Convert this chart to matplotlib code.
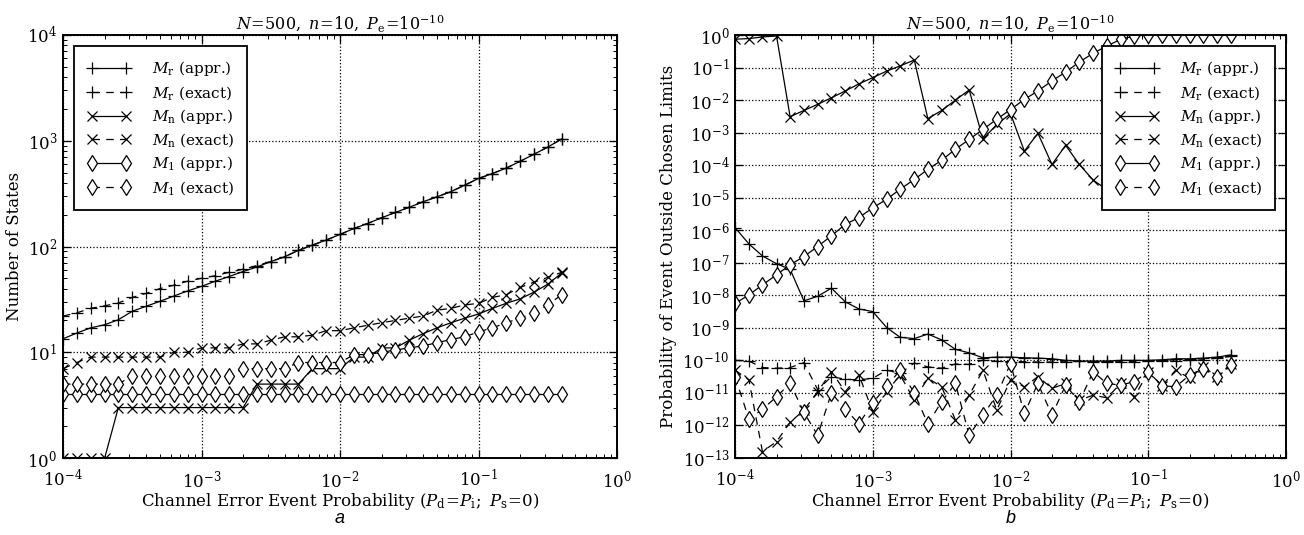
import numpy as np
import matplotlib
matplotlib.use("Agg")
import matplotlib.pyplot as plt
from matplotlib.ticker import LogLocator, NullLocator

plt.rcParams['font.family'] = 'DejaVu Serif'
plt.rcParams['mathtext.fontset'] = 'dejavuserif'
plt.rcParams['font.size'] = 11

# channel error event probability (10 points per decade)
p = [1.00e-4, 1.26e-4, 1.58e-4, 2.00e-4, 2.51e-4, 3.16e-4, 3.98e-4, 5.01e-4, 6.31e-4, 7.94e-4,
     1.00e-3, 1.26e-3, 1.58e-3, 2.00e-3, 2.51e-3, 3.16e-3, 3.98e-3, 5.01e-3, 6.31e-3, 7.94e-3,
     1.00e-2, 1.26e-2, 1.58e-2, 2.00e-2, 2.51e-2, 3.16e-2, 3.98e-2, 5.01e-2, 6.31e-2, 7.94e-2,
     1.00e-1, 1.26e-1, 1.58e-1, 2.00e-1, 2.51e-1, 3.16e-1, 3.98e-1]

# (a) number of states
states_mr_appr = [13.4, 15.2, 17, 18.2, 20.3, 24.4, 27.2, 30.3, 34, 38, 42, 47, 52, 58, 64, 72, 80, 92,
                  103, 115, 130, 148, 165, 187, 210, 235, 265, 295, 330, 380, 440, 490, 550, 640, 745, 870, 1040]
states_mr_exact = [22, 23.6, 26, 27.5, 29.2, 33, 36, 40, 43, 47, 50, 53, 57, 61, 66, 72, 80, 92,
                   103, 115, 130, 148, 165, 187, 210, 235, 265, 295, 330, 380, 440, 490, 550, 640, 745, 870, 1040]
states_mn_appr = [1, 1, 1, 1, 3, 3, 3, 3, 3, 3, 3, 3, 3, 3, 5, 5, 5, 5, 7, 7, 7, 9, 9, 11, 11,
                  13, 15, 17, 19, 21, 23, 26, 29, 32, 37, 44, 56]
states_mn_exact = [7, 8, 9, 9, 9, 9, 9, 9, 10, 10, 11, 11, 11, 12, 12, 13, 14, 14, 14.5, 16, 16,
                   17, 18, 19, 20, 21, 22, 25, 26, 28, 29, 33, 35, 41, 46, 51, 57]
states_m1_appr = [4] * 37
states_m1_exact = [5, 5, 5, 5, 5, 6, 6, 6, 6, 6, 6, 6, 6, 7, 7, 7, 7, 8, 8, 8, 8, 9.5, 9.5, 10, 10.5,
                   11, 11.5, 12.3, 13.2, 14, 15.6, 17, 19, 21, 23.5, 28, 35]

# (b) probability of event outside chosen limits, log10 values
logp_mr_appr = [-5.92, -6.42, -6.79, -7.03, -7.2, -8.17, -8.03, -7.78, -8.2, -8.42, -8.5, -8.99, -9.29,
                -9.33, -9.19, -9.37, -9.66, -9.77, -9.92, -9.9, -9.9, -9.92, -9.93, -9.95, -10.0, -10.02,
                -10.02, -10.02, -10.0, -10.0, -10.0, -9.98, -9.95, -9.95, -9.93, -9.9, -9.83]
logp_mr_exact = [-10.0, -10.02, -10.22, -10.24, -10.22, -10.07, -10.9, -10.5, -10.58, -10.6, -10.55, -10.3,
                 -10.4, -10.08, -10.2, -10.24, -10.11, -10.12, -9.99, -10.03, -10.04, -10.04, -10.05, -10.05,
                 -10.04, -10.03, -10.05, -10.05, -10.04, -10.04, -10.03, -10.02, -10.02, -10.0, -9.98, -9.93, -9.88]
logp_mn_appr = [-0.13, -0.11, -0.06, -0.03, -2.51, -2.32, -2.13, -1.93, -1.72, -1.5, -1.31, -1.11, -0.95,
                -0.77, -2.57, -2.32, -2.0, -1.69, -3.2, -2.75, -2.42, -3.57, -3.02, -3.98, -3.39, -3.98,
                -4.46, -4.75, -4.9, -5.0, -5.05, -5.1, -5.1, -5.15, -5.15, -5.2, -5.2]
logp_mn_exact = [-10.3, -10.6, -12.8, -12.5, -11.9, -11.53, -10.96, -10.35, -10.96, -10.45, -11.58, -10.96,
                 -10.45, -11.22, -10.55, -10.81, -11.83, -11.07, -10.3, -11.53, -10.6, -10.81, -10.5, -10.86,
                 -10.71, -11.22, -11.07, -11.15, -10.71, -11.12, -10.35, -10.78, -10.3, -10.55, -10.19, -10.5, -10.1]
logp_m1_appr = [-8.25, -7.99, -7.68, -7.37, -7.06, -6.81, -6.5, -6.17, -5.82, -5.61, -5.31, -5.05, -4.74,
                -4.44, -4.13, -3.85, -3.51, -3.21, -2.9, -2.59, -2.29, -1.98, -1.72, -1.41, -1.14, -0.83,
                -0.56, -0.34, -0.13, -0.03, 0, 0, 0, 0, 0, 0, 0]
logp_m1_exact = [-10.5, -11.8, -11.5, -11.12, -10.7, -11.6, -12.3, -11.0, -11.5, -11.95, -11.3, -10.8,
                 -10.3, -11.0, -11.95, -11.27, -10.71, -12.3, -11.68, -11.07, -10.1, -11.63, -10.71, -11.68,
                 -10.76, -11.27, -10.35, -10.71, -10.76, -10.65, -10.35, -10.78, -10.81, -10.45, -10.25, -10.5, -10.13]

labels = [r'$M_{\mathrm{r}}$ (appr.)', r'$M_{\mathrm{r}}$ (exact)',
          r'$M_{\mathrm{n}}$ (appr.)', r'$M_{\mathrm{n}}$ (exact)',
          r'$M_{1}$ (appr.)', r'$M_{1}$ (exact)']
markers = ['+', '+', 'x', 'x', 'd', 'd']
sizes = [8.5, 8.5, 7.5, 7.5, 8, 8]
title = r'$N\!=\!500,\ n\!=\!10,\ P_{\mathrm{e}}\!=\!10^{-10}$'
xlab = r'Channel Error Event Probability ($P_{\mathrm{d}}\!=\!P_{\mathrm{i}};\ P_{\mathrm{s}}\!=\!0$)'


def draw(ax, series):
    for i, ys in enumerate(series):
        ls = '-' if i % 2 == 0 else (0, (6, 5))
        ax.plot(p, ys, color='black', linestyle=ls, lw=0.9, marker=markers[i],
                ms=sizes[i], mew=0.9, mfc='white', mec='black', label=labels[i])
    ax.set_xscale('log')
    ax.set_yscale('log')
    ax.set_xlim(1e-4, 1)
    ax.grid(True, which='major', color='black', linestyle=':', lw=0.9)
    ax.tick_params(which='both', direction='in', top=True, right=True, labelsize=12)
    ax.tick_params(which='major', length=6, width=0.9, pad=4)
    ax.tick_params(axis='x', which='major', pad=8)
    ax.tick_params(which='minor', length=3, width=0.7)
    for s in ax.spines.values():
        s.set_linewidth(1.4)
    ax.set_title(title, fontsize=11.5, pad=4)
    ax.set_xlabel(xlab, fontsize=12, labelpad=0)


fig = plt.figure(figsize=(13.04, 5.35), dpi=100)
ax1 = fig.add_axes([0.0483, 0.1439, 0.4249, 0.7907])
ax2 = fig.add_axes([0.5637, 0.1439, 0.4225, 0.7907])

draw(ax1, [states_mr_appr, states_mr_exact, states_mn_appr, states_mn_exact,
           states_m1_appr, states_m1_exact])
ax1.set_ylim(1, 1e4)
ax1.set_ylabel('Number of States', fontsize=12, labelpad=3)

draw(ax2, [10.0 ** np.array(v) for v in [logp_mr_appr, logp_mr_exact, logp_mn_appr,
                                         logp_mn_exact, logp_m1_appr, logp_m1_exact]])
ax2.set_ylim(1e-13, 1)
ax2.yaxis.set_major_locator(LogLocator(base=10, numticks=20))
ax2.yaxis.set_minor_locator(NullLocator())
ax2.set_ylabel('Probability of Event Outside Chosen Limits', fontsize=12)

for ax, loc in [(ax1, 'upper left'), (ax2, 'upper right')]:
    leg = ax.legend(loc=loc, numpoints=2, fancybox=False, framealpha=1, fontsize=11,
                    handlelength=2.8, handletextpad=1.4, labelspacing=0.35, borderpad=0.9,
                    borderaxespad=0.7)
    leg.get_frame().set_edgecolor('black')
    leg.get_frame().set_linewidth(1.3)

fig.text(0.0483 + 0.4249 / 2, 0.03, 'a', fontsize=13, style='italic',
         family='Liberation Sans', ha='center', va='center')
fig.text(0.5637 + 0.4225 / 2, 0.03, 'b', fontsize=13, style='italic',
         family='Liberation Sans', ha='center', va='center')

fig.savefig('out.png', dpi=100)
